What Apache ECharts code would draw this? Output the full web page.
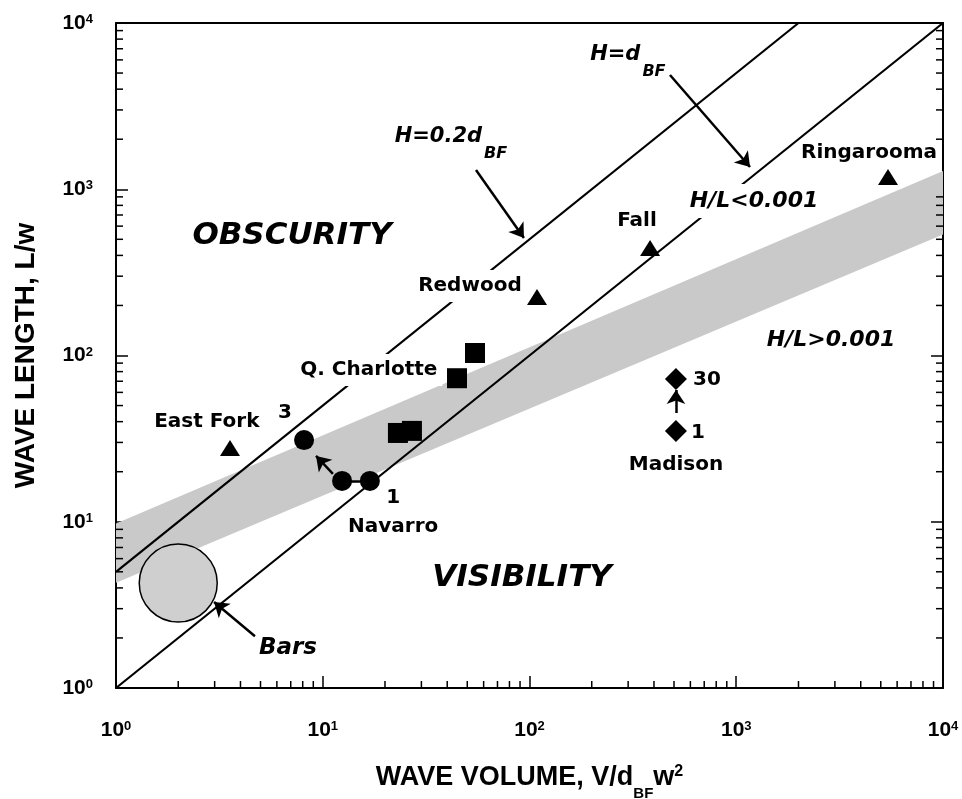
<!DOCTYPE html>
<html>
<head>
<meta charset="utf-8">
<script src="https://cdn.jsdelivr.net/npm/echarts@6/dist/echarts.min.js"></script>
<style>
  html, body { margin: 0; padding: 0; background: #fff; }
  #chart { width: 962px; height: 799px; }
</style>
</head>
<body>
<div id="chart"></div>
<script>
// values: wave volume V/dBF w^2 (x) vs wave length L/w (y), both log
const triangles = [[3.56, 27.8], [108.7, 225], [383, 443], [5420, 1186]] // East Fork, Redwood, Fall, Ringarooma
const navarro = [[8.12, 31], [12.4, 17.6], [16.9, 17.6]]
const charlotte = [[54.5, 103.5], [44.6, 73], [23.1, 34.2], [27, 35.2]]
const madison = [[511, 72.2], [511, 35.2]]
const bars = [[2.0, 4.28]]

// shaded band edges
const bandX = [1, 10000]
const bandLow = [4.29, 535]
const bandHigh = [9.77, 1288]

// H = 0.2 dBF and H = dBF lines
const line02 = [[1, 5], [2000, 10000]]
const line1 = [[1, 1], [10000, 10000]]

// arrows, [from, to]
const arrows = [
  [[55.1, 1306], [94, 509]],
  [[478, 4865], [1166, 1361]],
  [[4.70, 2.05], [2.98, 3.29]],
  [[11.2, 19.4], [9.28, 24.9]],
  [[511, 45.1], [511, 62.0]]
]
const navarroLink = [[16.9, 17.6], [12.4, 17.6]]

const siteLabels = [
  ['East Fork', 2.75, 39.8],
  ['3', 6.57, 45.1],
  ['Q. Charlotte', 16.7, 81.8],
  ['Redwood', 51.5, 262],
  ['Fall', 331, 644],
  ['Ringarooma', 4385, 1652],
  ['1', 21.9, 13.9],
  ['Navarro', 21.9, 9.3],
  ['30', 722, 71.2],
  ['1', 653, 34.2],
  ['Madison', 511, 21.9]
]
const regionLabels = [
  ['OBSCURITY', 7.1, 524],
  ['VISIBILITY', 92, 4.59],
  ['H/L<0.001', 1219, 849],
  ['H/L>0.001', 2873, 124],
  ['Bars', 6.79, 1.74]
]
const lineLabels = [
  ['H=0.2d', 'BF', 41.7, 2019],
  ['H=d', 'BF', 299, 6285]
]
// labels that sit on top of a line and break it
const masked = ['Q. Charlotte', 'Redwood', 'H/L<0.001']

const minorTicks = [2, 3, 4, 5, 6, 7, 8, 9, 20, 30, 40, 50, 60, 70, 80, 90,
  200, 300, 400, 500, 600, 700, 800, 900, 2000, 3000, 4000, 5000, 6000, 7000, 8000, 9000]

const sans = 'Liberation Sans'
const dv = 'DejaVu Sans'

function tickLabel(v) {
  return '{b|10}{s|' + Math.round(Math.log10(v)) + '}'
}
const tickRich = {
  b: { fontFamily: sans, fontWeight: 'bold', fontSize: 21, lineHeight: 24, color: '#000' },
  s: { fontFamily: sans, fontWeight: 'bold', fontSize: 13, lineHeight: 13, verticalAlign: 'top', padding: [2, 0, 0, 0], color: '#000' }
}

function labelSize(name, big) {
  if (!big) return 20
  if (name === 'OBSCURITY' || name === 'VISIBILITY') return 31
  if (name === 'Bars') return 23
  return 22
}

function labelItem(name, x, y, big) {
  const mask = masked.indexOf(name) >= 0
  return {
    value: [x, y],
    name: name,
    label: {
      show: true,
      position: 'inside',
      formatter: name,
      fontFamily: dv,
      fontWeight: 'bold',
      fontStyle: big ? 'italic' : 'normal',
      fontSize: labelSize(name, big),
      color: '#000',
      opacity: 1,
      backgroundColor: mask ? '#fff' : 'transparent',
      padding: mask ? [6, 5] : 0
    }
  }
}

const labelData = siteLabels.map(d => labelItem(d[0], d[1], d[2], false))
  .concat(regionLabels.map(d => labelItem(d[0], d[1], d[2], true)))
  .concat(lineLabels.map(d => ({
    value: [d[2], d[3]],
    name: d[0],
    label: {
      show: true,
      position: 'inside',
      opacity: 1,
      formatter: '{m|' + d[0] + '}{s|' + d[1] + '}',
      rich: {
        m: { fontFamily: dv, fontWeight: 'bold', fontStyle: 'italic', fontSize: 21, lineHeight: 24, verticalAlign: 'top', color: '#000' },
        s: { fontFamily: dv, fontWeight: 'bold', fontStyle: 'italic', fontSize: 16, lineHeight: 16, verticalAlign: 'top', padding: [19, 0, 0, 2], color: '#000' }
      }
    }
  })))

const axisBase = {
  type: 'log',
  logBase: 10,
  min: 1,
  max: 10000,
  axisLine: { show: true, lineStyle: { color: '#000', width: 2 } },
  splitLine: { show: false },
  axisTick: { show: true, inside: true, length: 12, lineStyle: { color: '#000', width: 1.5 } }
}

const chart = echarts.init(document.getElementById('chart'))
chart.setOption({
  animation: false,
  backgroundColor: '#fff',
  grid: { left: 116, right: 19, top: 23, bottom: 111, show: false, outerBoundsMode: 'none', containLabel: false },
  xAxis: [
    Object.assign({}, axisBase, {
      position: 'bottom',
      axisLabel: { formatter: tickLabel, rich: tickRich, margin: 30 },
      name: '{m|WAVE VOLUME, V/d}{s|BF}{m|w}{p|2}',
      nameLocation: 'middle',
      nameGap: 76,
      nameTextStyle: {
        rich: {
          m: { fontFamily: sans, fontWeight: 'bold', fontSize: 27, lineHeight: 28, verticalAlign: 'top', color: '#000' },
          s: { fontFamily: sans, fontWeight: 'bold', fontSize: 15, lineHeight: 15, verticalAlign: 'top', padding: [22, 0, 0, 0], color: '#000' },
          p: { fontFamily: sans, fontWeight: 'bold', fontSize: 16, lineHeight: 16, verticalAlign: 'top', color: '#000' }
        }
      }
    }),
    Object.assign({}, axisBase, {
      position: 'top',
      axisTick: { show: false },
      axisLabel: { show: false }
    })
  ],
  yAxis: [
    Object.assign({}, axisBase, {
      position: 'left',
      axisLabel: { formatter: tickLabel, rich: tickRich, margin: 23 },
      name: 'WAVE LENGTH, L/w',
      nameLocation: 'middle',
      nameRotate: 90,
      nameGap: 76,
      nameTextStyle: { fontFamily: sans, fontWeight: 'bold', fontSize: 28, color: '#000' }
    }),
    Object.assign({}, axisBase, {
      position: 'right',
      axisLabel: { show: false }
    })
  ],
  series: [
    {
      // shaded band
      type: 'custom',
      silent: true,
      z: 1,
      data: [[bandX[0], bandLow[0]]],
      renderItem(params, api) {
        const pts = [
          api.coord([bandX[0], bandLow[0]]),
          api.coord([bandX[1], bandLow[1]]),
          api.coord([bandX[1], bandHigh[1]]),
          api.coord([bandX[0], bandHigh[0]])
        ]
        return { type: 'polygon', shape: { points: pts }, style: { fill: '#c9c9c9', stroke: null } }
      }
    },
    {
      // minor ticks on bottom, left and right
      type: 'custom',
      silent: true,
      z: 5,
      data: minorTicks.map(v => [v, v]),
      renderItem(params, api) {
        const v = api.value(0)
        const b = api.coord([v, 1])
        const l = api.coord([1, v])
        const r = api.coord([10000, v])
        const st = { stroke: '#000', lineWidth: 1.5 }
        return {
          type: 'group',
          children: [
            { type: 'line', shape: { x1: b[0], y1: b[1], x2: b[0], y2: b[1] - 7 }, style: st },
            { type: 'line', shape: { x1: l[0], y1: l[1], x2: l[0] + 7, y2: l[1] }, style: st },
            { type: 'line', shape: { x1: r[0], y1: r[1], x2: r[0] - 7, y2: r[1] }, style: st }
          ]
        }
      }
    },
    {
      type: 'line', data: line02, symbol: 'none', z: 3, silent: true,
      lineStyle: { color: '#000', width: 2.2 }
    },
    {
      type: 'line', data: line1, symbol: 'none', z: 3, silent: true,
      lineStyle: { color: '#000', width: 2.2 }
    },
    {
      type: 'scatter', data: bars, symbol: 'circle', symbolSize: 78, z: 4,
      itemStyle: { color: '#cfcfcf', borderColor: '#000', borderWidth: 1.5, opacity: 1 }
    },
    {
      type: 'lines', coordinateSystem: 'cartesian2d', z: 6, silent: true,
      symbol: ['none', 'arrow'], symbolSize: 14,
      lineStyle: { color: '#000', width: 2.5, opacity: 1 },
      data: arrows.map(a => ({ coords: a }))
    },
    {
      type: 'lines', coordinateSystem: 'cartesian2d', z: 6, silent: true,
      symbol: 'none',
      lineStyle: { color: '#000', width: 2.5, opacity: 1 },
      data: [{ coords: navarroLink }]
    },
    {
      type: 'scatter', data: triangles, symbol: 'triangle', symbolSize: [20, 16], z: 7,
      itemStyle: { color: '#000', opacity: 1 }
    },
    {
      type: 'scatter', data: navarro, symbol: 'circle', symbolSize: 20, z: 7,
      itemStyle: { color: '#000', opacity: 1 }
    },
    {
      type: 'scatter', data: charlotte, symbol: 'rect', symbolSize: 20, z: 7,
      itemStyle: { color: '#000', opacity: 1 }
    },
    {
      type: 'scatter', data: madison, symbol: 'diamond', symbolSize: 22, z: 7,
      itemStyle: { color: '#000', opacity: 1 }
    },
    {
      // text annotations
      type: 'scatter', z: 10, silent: true,
      symbol: 'circle', symbolSize: 1,
      itemStyle: { color: 'rgba(0,0,0,0)', opacity: 1 },
      data: labelData
    }
  ]
})
</script>
</body>
</html>
